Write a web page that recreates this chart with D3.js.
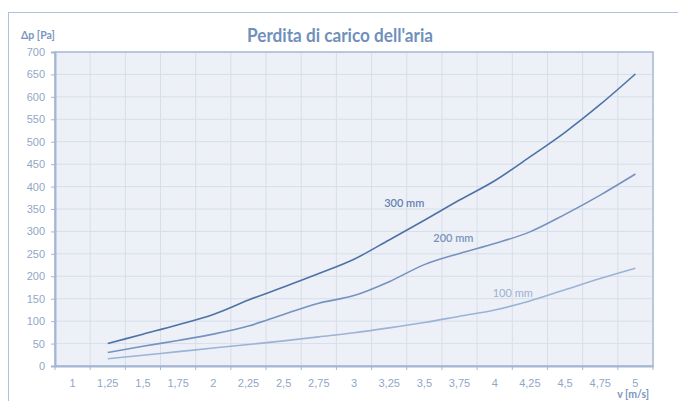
<!DOCTYPE html>
<html>
<head>
<meta charset="utf-8">
<script src="https://cdn.jsdelivr.net/npm/d3@7"></script>
<style>
  body { margin: 0; background: #fff; }
  svg { display: block; font-family: Lato, "Open Sans", sans-serif; }
</style>
</head>
<body>
<div id="chart"></div>
<script>
// categories on the x axis (velocity, m/s)
var categories = ["1", "1,25", "1,5", "1,75", "2", "2,25", "2,5", "2,75", "3",
  "3,25", "3,5", "3,75", "4", "4,25", "4,5", "4,75", "5"];

// series start at 1,25
var seriesCats = categories.slice(1);
var dp100 = [16, 24, 32, 40, 48, 56, 65, 74, 85, 97, 111, 125, 145, 170, 195, 218];
var dp200 = [30, 44, 57, 71, 89, 115, 140, 157, 188, 226, 251, 273, 299, 338, 381, 428];
var dp300 = [50, 71, 92, 115, 147, 176, 206, 238, 281, 325, 370, 413, 466, 521, 583, 651];

var yTicks = d3.range(0, 701, 50);

var svgWidth = 678;
var svgHeight = 401;

var margin = { top: 52, right: 25, bottom: 35, left: 55 };
var width = svgWidth - margin.left - margin.right;
var height = svgHeight - margin.top - margin.bottom;

var svg = d3.select("#chart")
  .append("svg")
  .attr("width", svgWidth)
  .attr("height", svgHeight);

// chart area border
svg.append("rect")
  .attr("x", 8.5)
  .attr("y", 12.5)
  .attr("width", 700)
  .attr("height", 420)
  .attr("fill", "#fff")
  .attr("stroke", "#aec2dd")
  .attr("stroke-width", 1);

var chartGroup = svg.append("g")
  .attr("transform", `translate(${margin.left}, ${margin.top})`);

var xScale = d3.scaleBand()
  .domain(categories)
  .range([0, width])
  .padding(0);

var yScale = d3.scaleLinear()
  .domain([0, 700])
  .range([height, 0]);

var xMid = d => xScale(d) + xScale.bandwidth() / 2;

// plot background
chartGroup.append("rect")
  .attr("width", width)
  .attr("height", height)
  .attr("fill", "#edf1f7");

// horizontal gridlines
chartGroup.append("g")
  .selectAll("line")
  .data(yTicks)
  .enter()
  .append("line")
  .attr("x1", 0)
  .attr("x2", width)
  .attr("y1", d => yScale(d))
  .attr("y2", d => yScale(d))
  .attr("stroke", "#d6deea")
  .attr("stroke-width", 1);

// vertical gridlines at category boundaries
var bounds = categories.map(c => xScale(c)).concat([width]);
chartGroup.append("g")
  .selectAll("line")
  .data(bounds)
  .enter()
  .append("line")
  .attr("x1", d => d)
  .attr("x2", d => d)
  .attr("y1", 0)
  .attr("y2", height)
  .attr("stroke", "#d6deea")
  .attr("stroke-width", 1);

// plot frame (top and right)
chartGroup.append("rect")
  .attr("width", width)
  .attr("height", height)
  .attr("fill", "none")
  .attr("stroke", "#a9bcd7")
  .attr("stroke-width", 1.5);

// y axis
var yAxis = d3.axisLeft(yScale).tickValues(yTicks).tickSize(4).tickPadding(6);
var yG = chartGroup.append("g").call(yAxis);
yG.select(".domain").attr("stroke", "#a3b7d3").attr("stroke-width", 2);
yG.selectAll(".tick line").attr("stroke", "#a3b7d3");
yG.selectAll("text").attr("fill", "#91a7c6").attr("font-size", 11);

// x axis: labels at category centres, tick marks at boundaries
var xAxis = d3.axisBottom(xScale).tickSize(0).tickPadding(13);
var xG = chartGroup.append("g")
  .attr("transform", `translate(0, ${height})`)
  .call(xAxis);
xG.select(".domain").attr("stroke", "#a3b7d3").attr("stroke-width", 2);
xG.selectAll("text").attr("fill", "#91a7c6").attr("font-size", 11);

chartGroup.append("g")
  .selectAll("line")
  .data(bounds)
  .enter()
  .append("line")
  .attr("x1", d => d)
  .attr("x2", d => d)
  .attr("y1", height)
  .attr("y2", height + 4)
  .attr("stroke", "#a3b7d3")
  .attr("stroke-width", 1);

// series lines, labels placed beside the curves
var series = [
  { name: "100 mm", values: dp100, color: "#9bb3d6", label: "#9bb0d2", lx: "4", dx: -2, ly: 163, weight: 400 },
  { name: "200 mm", values: dp200, color: "#7592c0", label: "#7a93bd", lx: "3,5", dx: 9, ly: 284, weight: 600 },
  { name: "300 mm", values: dp300, color: "#4d72a6", label: "#6582b0", lx: "3,25", dx: -5, ly: 364, weight: 600 }
];

var line = d3.line()
  .x((d, i) => xMid(seriesCats[i]))
  .y(d => yScale(d))
  .curve(d3.curveMonotoneX);

series.forEach(function(s) {
  chartGroup.append("path")
    .datum(s.values)
    .attr("d", line)
    .attr("fill", "none")
    .attr("stroke", s.color)
    .attr("stroke-width", 1.6);

  chartGroup.append("text")
    .attr("x", xMid(s.lx) + s.dx)
    .attr("y", yScale(s.ly))
    .attr("dy", "0.35em")
    .attr("fill", s.label)
    .attr("font-size", 11)
    .attr("font-weight", s.weight)
    .text(s.name);
});

// title
svg.append("text")
  .attr("x", 340)
  .attr("y", 42)
  .attr("text-anchor", "middle")
  .attr("fill", "#7090bc")
  .attr("font-size", 19)
  .attr("font-weight", "bold")
  .attr("textLength", 186)
  .attr("lengthAdjust", "spacingAndGlyphs")
  .text("Perdita di carico dell'aria");

// axis titles
svg.append("text")
  .attr("x", 21)
  .attr("y", 39)
  .attr("fill", "#7a95be")
  .attr("font-size", 10.5)
  .attr("font-weight", "bold")
  .text("Δp [Pa]");

svg.append("text")
  .attr("x", 649)
  .attr("y", 398)
  .attr("text-anchor", "end")
  .attr("fill", "#7a95be")
  .attr("font-size", 10.5)
  .attr("font-weight", "bold")
  .text("v [m/s]");
</script>
</body>
</html>
